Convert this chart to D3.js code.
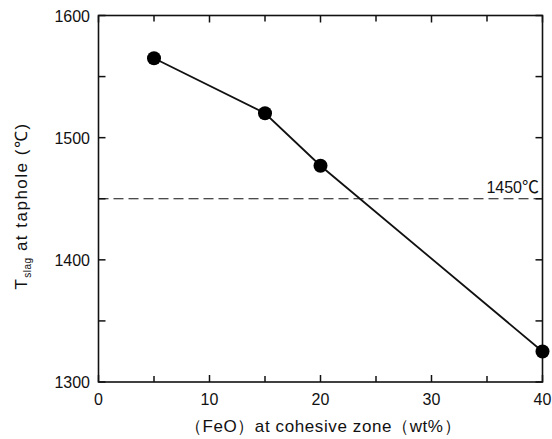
<!DOCTYPE html>
<html><head><meta charset="utf-8">
<script src="https://cdn.jsdelivr.net/npm/d3@7"></script>
<style>body{margin:0;background:#fff}text{font-family:"Liberation Sans",Arial,sans-serif;fill:#111}</style>
</head><body><svg id="c" width="552" height="439"></svg>
<script>
const feo = [5, 15, 20, 40];
const tslag = [1565, 1520, 1477, 1325];
const xMajor = [0, 10, 20, 30, 40];
const xMinor = [5, 15, 25, 35];
const yMajor = [1300, 1400, 1500, 1600];
const yMinor = [1350, 1450, 1550];
const refTemp = 1450;
const refNum = "1450";
const refUnit = "℃";

const svg = d3.select("#c");
const L = 98.5, R = 542.5, T = 15.5, B = 382;
const x = d3.scaleLinear().domain([0, 40]).range([L, R]);
const y = d3.scaleLinear().domain([1300, 1600]).range([B, T]);
const col = "#111";

// ticks inward on all four sides
const g = svg.append("g").attr("stroke", col).attr("stroke-width", 1.5);
xMajor.concat(xMinor).forEach(v => {
  const len = xMajor.includes(v) ? 7 : 6;
  g.append("line").attr("x1", x(v)).attr("x2", x(v)).attr("y1", B).attr("y2", B - len);
  g.append("line").attr("x1", x(v)).attr("x2", x(v)).attr("y1", T).attr("y2", T + len);
});
yMajor.concat(yMinor).forEach(v => {
  const len = 7;
  g.append("line").attr("y1", y(v)).attr("y2", y(v)).attr("x1", L).attr("x2", L + len);
  g.append("line").attr("y1", y(v)).attr("y2", y(v)).attr("x1", R).attr("x2", R - len);
});
svg.append("rect").attr("x", L).attr("y", T).attr("width", R - L).attr("height", B - T)
  .attr("fill", "none").attr("stroke", col).attr("stroke-width", 1.6);

// tick labels
xMajor.forEach(v => svg.append("text").attr("x", x(v)).attr("y", 405)
  .attr("text-anchor", "middle").attr("font-size", 16).text(v));
yMajor.forEach(v => svg.append("text").attr("x", 90).attr("y", y(v) + 6)
  .attr("text-anchor", "end").attr("font-size", 16).text(v));

// reference line
svg.append("line").attr("x1", L).attr("x2", R).attr("y1", y(refTemp)).attr("y2", y(refTemp))
  .attr("stroke", col).attr("stroke-width", 1.2).attr("stroke-dasharray", "10,5");
const rl = svg.append("text").attr("x", 539).attr("y", y(refTemp) - 6).attr("text-anchor", "end")
  .attr("font-size", 16);
rl.append("tspan").text(refNum);
rl.append("tspan").attr("font-family", "Noto Sans CJK JP").attr("font-size", 17).text(refUnit);

// data line and markers
const pts = feo.map((f, i) => [f, tslag[i]]);
svg.append("path").datum(pts)
  .attr("d", d3.line().x(d => x(d[0])).y(d => y(d[1])))
  .attr("fill", "none").attr("stroke", col).attr("stroke-width", 1.8);
svg.selectAll("circle.pt").data(pts).enter().append("circle")
  .attr("cx", d => x(d[0])).attr("cy", d => y(d[1])).attr("r", 7).attr("fill", "#000");

// axis titles
svg.append("text").attr("x", 323).attr("y", 432).attr("text-anchor", "middle")
  .attr("font-size", 17).attr("letter-spacing", 0.6).text("（FeO）at cohesive zone（wt%）");
const yt = svg.append("text").attr("transform", "translate(27,206) rotate(-90)")
  .attr("text-anchor", "middle").attr("font-size", 17).attr("letter-spacing", 1.5);
yt.append("tspan").text("T");
yt.append("tspan").attr("font-size", 10).attr("letter-spacing", 0.5).attr("dy", 4).text("slag");
yt.append("tspan").attr("dy", -4).text(" at taphole (℃)");
</script></body></html>
